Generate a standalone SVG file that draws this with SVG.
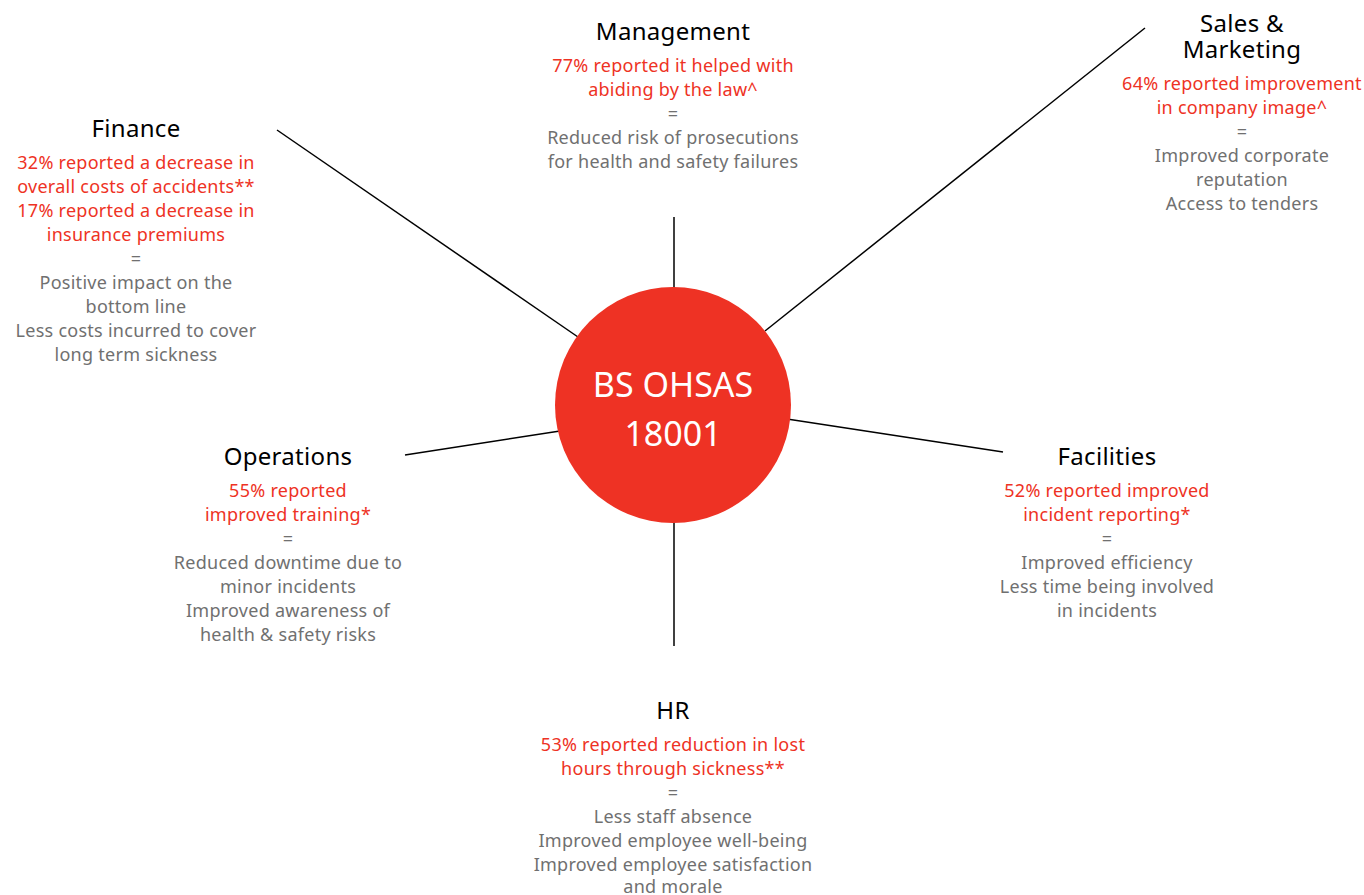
<svg xmlns="http://www.w3.org/2000/svg" width="1364" height="895" viewBox="0 0 1364 895">
<style>
text{font-family:"Noto Sans","Open Sans","DejaVu Sans",sans-serif;text-anchor:middle}
.t{font-size:24px;fill:#000;letter-spacing:0.3px}
.r{font-size:18px;fill:#EE3224;letter-spacing:0.27px}
.g{font-size:18px;fill:#707070;letter-spacing:0.27px}
.c{font-size:34px;fill:#fff}
.ln{stroke:#000;stroke-width:1.5;fill:none}
</style>
<rect width="1364" height="895" fill="#fff"/>
<g id="connectors">
<line class="ln" x1="674" y1="217" x2="674" y2="290"/>
<line class="ln" x1="1145" y1="28" x2="765" y2="331"/>
<line class="ln" x1="277" y1="130" x2="578" y2="337"/>
<line class="ln" x1="405" y1="455" x2="560" y2="431"/>
<line class="ln" x1="787" y1="419" x2="1003" y2="452"/>
<line class="ln" x1="674" y1="520" x2="674" y2="646"/>
</g>
<g id="center">
<circle cx="673" cy="405" r="118" fill="#EE3224"/>
<text class="c" x="673" y="397">BS OHSAS</text>
<text class="c" x="673" y="446">18001</text>
</g>
<g id="management">
<text class="t" x="673" y="40">Management</text>
<text class="r" x="673" y="72">77% reported it helped with</text>
<text class="r" x="673" y="96">abiding by the law^</text>
<text class="g" x="673" y="120">=</text>
<text class="g" x="673" y="144">Reduced risk of prosecutions</text>
<text class="g" x="673" y="168">for health and safety failures</text>
</g>
<g id="sales">
<text class="t" x="1242" y="32">Sales &amp;</text>
<text class="t" x="1242" y="58">Marketing</text>
<text class="r" x="1242" y="90">64% reported improvement</text>
<text class="r" x="1242" y="114">in company image^</text>
<text class="g" x="1242" y="138">=</text>
<text class="g" x="1242" y="162">Improved corporate</text>
<text class="g" x="1242" y="186">reputation</text>
<text class="g" x="1242" y="210">Access to tenders</text>
</g>
<g id="finance">
<text class="t" x="136" y="137">Finance</text>
<text class="r" x="136" y="169">32% reported a decrease in</text>
<text class="r" x="136" y="193">overall costs of accidents**</text>
<text class="r" x="136" y="217">17% reported a decrease in</text>
<text class="r" x="136" y="241">insurance premiums</text>
<text class="g" x="136" y="265">=</text>
<text class="g" x="136" y="289">Positive impact on the</text>
<text class="g" x="136" y="313">bottom line</text>
<text class="g" x="136" y="337">Less costs incurred to cover</text>
<text class="g" x="136" y="361">long term sickness</text>
</g>
<g id="operations">
<text class="t" x="288" y="465">Operations</text>
<text class="r" x="288" y="497">55% reported</text>
<text class="r" x="288" y="521">improved training*</text>
<text class="g" x="288" y="545">=</text>
<text class="g" x="288" y="569">Reduced downtime due to</text>
<text class="g" x="288" y="593">minor incidents</text>
<text class="g" x="288" y="617">Improved awareness of</text>
<text class="g" x="288" y="641">health &amp; safety risks</text>
</g>
<g id="facilities">
<text class="t" x="1107" y="465">Facilities</text>
<text class="r" x="1107" y="497">52% reported improved</text>
<text class="r" x="1107" y="521">incident reporting*</text>
<text class="g" x="1107" y="545">=</text>
<text class="g" x="1107" y="569">Improved efficiency</text>
<text class="g" x="1107" y="593">Less time being involved</text>
<text class="g" x="1107" y="617">in incidents</text>
</g>
<g id="hr">
<text class="t" x="673" y="719">HR</text>
<text class="r" x="673" y="751">53% reported reduction in lost</text>
<text class="r" x="673" y="775">hours through sickness**</text>
<text class="g" x="673" y="799">=</text>
<text class="g" x="673" y="823">Less staff absence</text>
<text class="g" x="673" y="847">Improved employee well-being</text>
<text class="g" x="673" y="871">Improved employee satisfaction</text>
<text class="g" x="673" y="893">and morale</text>
</g>
</svg>
